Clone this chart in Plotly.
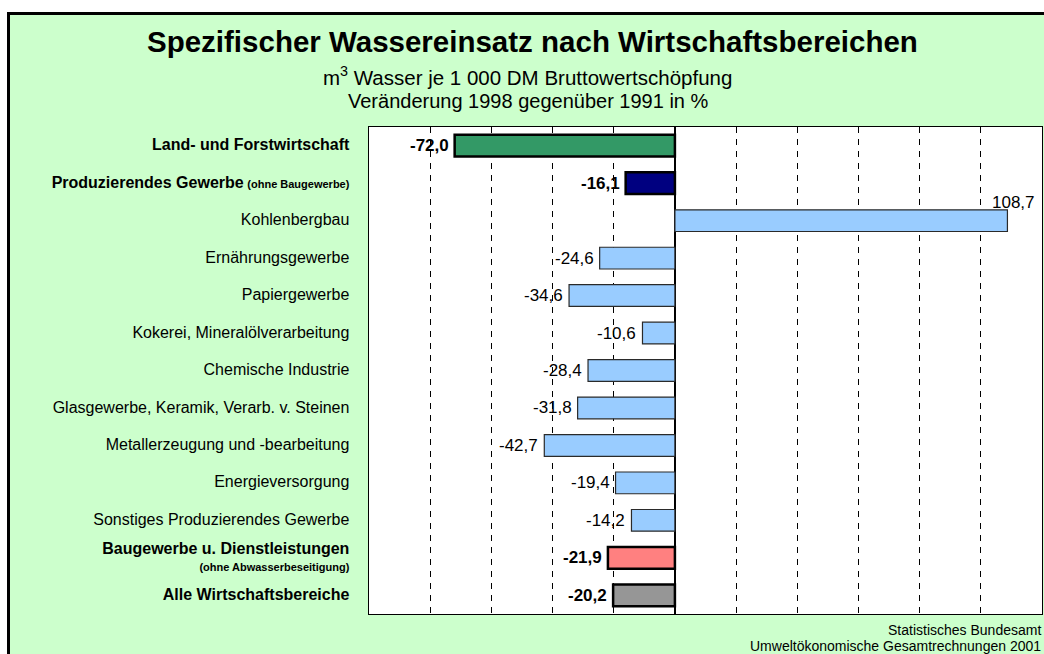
import plotly.graph_objects as go

# ---------------- data ----------------
categories = [
    "Land- und Forstwirtschaft",
    "Produzierendes Gewerbe",
    "Kohlenbergbau",
    "Ernährungsgewerbe",
    "Papiergewerbe",
    "Kokerei, Mineralölverarbeitung",
    "Chemische Industrie",
    "Glasgewerbe, Keramik, Verarb. v. Steinen",
    "Metallerzeugung und -bearbeitung",
    "Energieversorgung",
    "Sonstiges Produzierendes Gewerbe",
    "Baugewerbe u. Dienstleistungen",
    "Alle Wirtschaftsbereiche",
]
category_notes = ["", "(ohne Baugewerbe)", "", "", "", "", "", "", "", "", "",
                  "(ohne Abwasserbeseitigung)", ""]
note_on_new_line = [False, False, False, False, False, False, False, False, False, False, False,
                    True, False]
values = [-72.0, -16.1, 108.7, -24.6, -34.6, -10.6, -28.4, -31.8, -42.7, -19.4, -14.2, -21.9, -20.2]
is_aggregate = [True, True, False, False, False, False, False, False, False, False, False, True, True]
bar_colors = ["#339966", "#000080", "#99CCFF", "#99CCFF", "#99CCFF", "#99CCFF", "#99CCFF",
              "#99CCFF", "#99CCFF", "#99CCFF", "#99CCFF", "#FF8080", "#969696"]

title = "Spezifischer Wassereinsatz nach Wirtschaftsbereichen"
subtitle_1 = "m<sup>3</sup> Wasser je 1 000 DM Bruttowertschöpfung"
subtitle_2 = "Veränderung 1998 gegenüber 1991 in %"
source_1 = "Statistisches Bundesamt"
source_2 = "Umweltökonomische Gesamtrechnungen 2001"

# ---------------- layout geometry ----------------
OFF = 0                      # page body margin (removed below)
W, H = 1044, 654
ML, MR, MT, MB = 369, 2, 127, 40
PW, PH = W - ML - MR, H - MT - MB
FONT = "Liberation Sans, Arial, sans-serif"


def px2x(px):
    """screen pixel -> paper x"""
    return (px - OFF - ML) / PW


def py2y(py):
    """screen pixel -> paper y"""
    return (H - MB - (py - OFF)) / PH


def fmt(v):
    return f"{v:.1f}".replace(".", ",")


ticktext = []
for cat, note, newline, agg in zip(categories, category_notes, note_on_new_line, is_aggregate):
    if agg:
        t = f"<b><span style='font-size:16px'>{cat}</span></b>"
        if note:
            sep = "<br>" if newline else " "
            t += f"{sep}<b><span style='font-size:11px'>{note}</span></b>"
    else:
        t = f"<span style='font-size:16px'>{cat}</span>"
    ticktext.append(t)

fig = go.Figure()
fig.add_trace(go.Bar(
    orientation="h",
    x=values,
    y=categories,
    marker=dict(
        color=bar_colors,
        line=dict(color=["#000000" if a else "#2a2a2a" for a in is_aggregate],
                  width=[2.5 if a else 1.2 for a in is_aggregate]),
    ),
    hoverinfo="skip",
))

annotations = []
for cat, v, agg in zip(categories, values, is_aggregate):
    txt = f"<b>{fmt(v)}</b>" if agg else fmt(v)
    if v < 0:
        annotations.append(dict(x=v, y=cat, xref="x", yref="y", text=txt, showarrow=False,
                                xanchor="right", yanchor="middle", xshift=-4,
                                font=dict(family=FONT, size=17, color="black")))
    else:
        annotations.append(dict(x=v, y=cat, xref="x", yref="y", text=txt, showarrow=False,
                                xanchor="center", yanchor="middle", xshift=6, yshift=18,
                                font=dict(family=FONT, size=17, color="black")))

annotations += [
    dict(x=px2x(532), y=py2y(42), xref="paper", yref="paper", text=f"<b>{title}</b>",
         showarrow=False, xanchor="center", yanchor="middle",
         font=dict(family=FONT, size=29.5, color="black")),
    dict(x=px2x(527), y=py2y(76), xref="paper", yref="paper", text=subtitle_1,
         showarrow=False, xanchor="center", yanchor="middle",
         font=dict(family=FONT, size=20.5, color="black")),
    dict(x=px2x(528), y=py2y(101), xref="paper", yref="paper", text=subtitle_2,
         showarrow=False, xanchor="center", yanchor="middle",
         font=dict(family=FONT, size=20, color="black")),
    dict(x=px2x(1043), y=py2y(630), xref="paper", yref="paper", text=source_1,
         showarrow=False, xanchor="right", yanchor="middle",
         font=dict(family=FONT, size=14, color="black")),
    dict(x=px2x(1043), y=py2y(646), xref="paper", yref="paper", text=source_2,
         showarrow=False, xanchor="right", yanchor="middle",
         font=dict(family=FONT, size=14, color="black")),
]

shapes = [
    dict(type="rect", xref="paper", yref="paper", layer="below",
         x0=px2x(9), x1=px2x(1100), y0=py2y(700), y1=py2y(14),
         fillcolor="#CCFFCC", line=dict(width=0)),
    dict(type="rect", xref="paper", yref="paper", layer="below",
         x0=0, x1=1, y0=0, y1=1,
         fillcolor="white", line=dict(width=0)),
    dict(type="line", xref="paper", yref="paper", x0=px2x(8.5), x1=px2x(8.5),
         y0=py2y(12), y1=py2y(700), line=dict(color="black", width=3)),
    dict(type="line", xref="paper", yref="paper", x0=px2x(7), x1=px2x(1100),
         y0=py2y(13.5), y1=py2y(13.5), line=dict(color="black", width=3)),
]

fig.update_layout(
    width=W, height=H,
    margin=dict(l=ML, r=MR, t=MT, b=MB, pad=0),
    paper_bgcolor="white",
    plot_bgcolor="rgba(0,0,0,0)",
    showlegend=False,
    bargap=0.42,
    font=dict(family=FONT, size=16, color="black"),
    annotations=annotations,
    shapes=shapes,
    xaxis=dict(
        range=[-100, 120], dtick=20, tick0=0,
        showticklabels=False, ticks="",
        showgrid=True, gridcolor="black", gridwidth=1, griddash="6px,6px",
        zeroline=True, zerolinecolor="black", zerolinewidth=1.5,
        showline=True, linecolor="black", linewidth=1, mirror=True,
        fixedrange=True,
    ),
    yaxis=dict(
        type="category",
        categoryorder="array", categoryarray=categories,
        autorange="reversed",
        tickvals=categories, ticktext=ticktext,
        tickfont=dict(family=FONT, size=13, color="black"),
        ticks="", ticklabelstandoff=16,
        showgrid=False, zeroline=False,
        showline=True, linecolor="black", linewidth=1, mirror=True,
        fixedrange=True,
    ),
)

fig.write_html(
    "out.html",
    config={"displayModeBar": False, "staticPlot": True},
    post_script="document.body.style.margin='0';"
                "document.documentElement.style.overflow='hidden';"
                "document.body.style.overflow='hidden';",
)
